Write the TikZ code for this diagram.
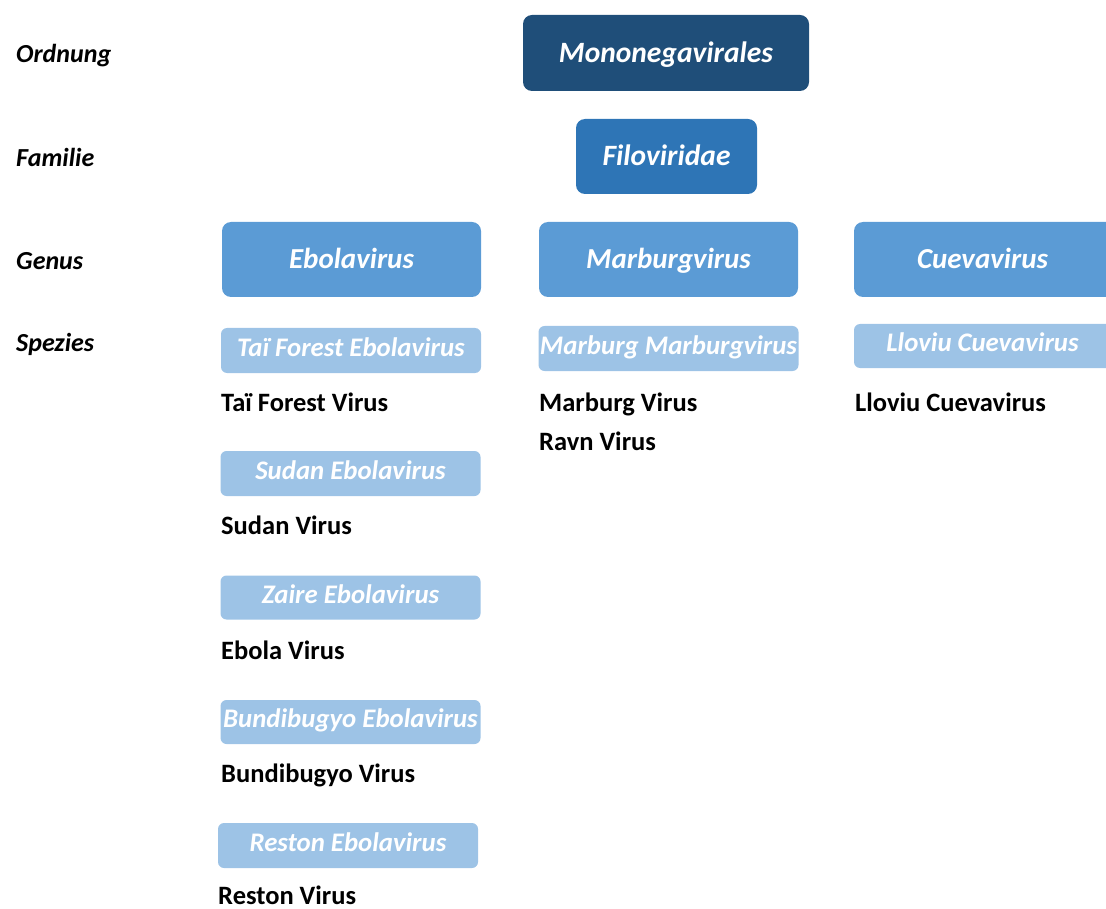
\documentclass[tikz,border=0pt]{standalone}
\usepackage{fontspec}
\setmainfont{Carlito}
\definecolor{cOrd}{HTML}{1F4E79}
\definecolor{cFam}{HTML}{2E75B6}
\definecolor{cGen}{HTML}{5B9BD5}
\definecolor{cSpe}{HTML}{9DC3E6}
\tikzset{
  box/.style={rounded corners=9pt, inner sep=0pt, text=white, text height=19pt, text depth=0pt, font=\fontsize{29.5}{33}\selectfont\bfseries\itshape},
  ordbox/.style={box, fill=cOrd, minimum width=286pt, minimum height=76pt},
  fambox/.style={box, fill=cFam, minimum width=181pt, minimum height=75pt},
  genbox/.style={box, fill=cGen, minimum width=259pt, minimum height=75pt, font=\fontsize{29}{33}\selectfont\bfseries\itshape},
  spebox/.style={box, rounded corners=6pt, fill=cSpe, minimum width=260pt, minimum height=45pt, text height=11.5pt, font=\fontsize{26.8}{30}\selectfont\bfseries\itshape},
  rank/.style={anchor=base west, inner sep=0pt, font=\fontsize{26}{30}\selectfont\bfseries\itshape},
  virus/.style={anchor=base west, inner sep=0pt, font=\fontsize{26.5}{30}\selectfont\bfseries},
}
\begin{document}
\begin{tikzpicture}[x=1pt,y=-1pt]
\useasboundingbox (0,0) rectangle (1106,909);
\clip (0,0) rectangle (1106,909);
% rank labels
\node[rank] (lOrd) at (16,63) {Ordnung};
\node[rank] (lFam) at (16,167) {Familie};
\node[rank] (lGen) at (16,270) {Genus};
\node[rank] (lSpe) at (16,352) {Spezies};
% order and family
\node[ordbox] (ord) at (666,53) {Mononegavirales};
\node[fambox] (fam) at (666.5,156.5) {Filoviridae};
% genera
\node[genbox] (ebo) at (351.5,259.5) {Ebolavirus};
\node[genbox] (mar) at (668.5,259.5) {Marburgvirus};
\node[genbox, minimum width=266pt] (cue) at (987,259.5) {\hspace*{-9pt}Cuevavirus};
% species
\node[spebox] (tai) at (351,350.5) {Taï Forest Ebolavirus};
\node[spebox] (sud) at (350.5,473.5) {Sudan Ebolavirus};
\node[spebox, minimum height=44pt] (zai) at (350.5,597.5) {Zaire Ebolavirus};
\node[spebox, minimum height=44pt] (bun) at (350.5,722) {Bundibugyo Ebolavirus};
\node[spebox] (res) at (348,845.5) {Reston Ebolavirus};
\node[spebox] (mms) at (668.5,348.5) {Marburg Marburgvirus};
\node[spebox, minimum width=266pt, minimum height=44pt] (llo) at (987,346) {\hspace*{-9pt}Lloviu Cuevavirus};
% viruses
\node[virus] (vtai) at (221,411) {Taï Forest Virus};
\node[virus] (vsud) at (221,534) {Sudan Virus};
\node[virus] (vebo) at (221,659) {Ebola Virus};
\node[virus] (vbun) at (221,782) {Bundibugyo Virus};
\node[virus] (vres) at (218,904) {Reston Virus};
\node[virus] (vmar) at (539,411) {Marburg Virus};
\node[virus] (vrav) at (539,450) {Ravn Virus};
\node[virus] (vllo) at (855,411) {Lloviu Cuevavirus};
\end{tikzpicture}
\end{document}
